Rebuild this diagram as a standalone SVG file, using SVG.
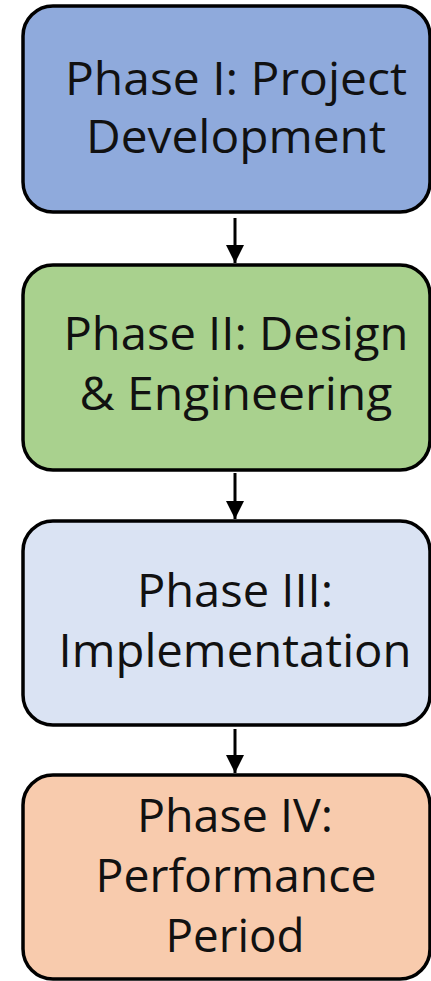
<svg xmlns="http://www.w3.org/2000/svg" width="431" height="981" viewBox="0 0 431 981">
<style>
.box{stroke:#000;stroke-width:3.5}
.t{font-family:"Open Sans","Noto Sans",sans-serif;font-size:46px;fill:#111;text-anchor:middle}
.c{stroke:#000;stroke-width:3;fill:none}
</style>
<defs>
<marker id="ah" viewBox="0 0 10 10" refX="10" refY="5" markerWidth="6" markerHeight="6" markerUnits="strokeWidth" orient="auto">
<path d="M0,0 L10,5 L0,10 z" fill="#000"/>
</marker>
</defs>
<rect width="431" height="981" fill="#fff"/>
<g id="connectors">
<line class="c" x1="235" y1="218" x2="235" y2="263" marker-end="url(#ah)"/>
<line class="c" x1="235" y1="473" x2="235" y2="519" marker-end="url(#ah)"/>
<line class="c" x1="235" y1="729" x2="235" y2="773" marker-end="url(#ah)"/>
</g>
<g id="phase1">
<rect class="box" x="23" y="6" width="407" height="206" rx="30" fill="#8FAADC"/>
<text class="t" x="236" y="95" textLength="342" lengthAdjust="spacingAndGlyphs">Phase I: Project</text>
<text class="t" x="236" y="153" textLength="300" lengthAdjust="spacingAndGlyphs">Development</text>
</g>
<g id="phase2">
<rect class="box" x="23" y="265" width="407" height="205" rx="30" fill="#A9D18E"/>
<text class="t" x="236" y="350" textLength="345" lengthAdjust="spacingAndGlyphs">Phase II: Design</text>
<text class="t" x="236" y="410" textLength="313" lengthAdjust="spacingAndGlyphs">&amp; Engineering</text>
</g>
<g id="phase3">
<rect class="box" x="23" y="521" width="407" height="204" rx="30" fill="#DAE3F3"/>
<text class="t" x="235" y="607" textLength="196" lengthAdjust="spacingAndGlyphs">Phase III:</text>
<text class="t" x="235" y="667" textLength="353" lengthAdjust="spacingAndGlyphs">Implementation</text>
</g>
<g id="phase4">
<rect class="box" x="23" y="775" width="407" height="204" rx="30" fill="#F8CBAD"/>
<text class="t" x="235" y="832" textLength="196" lengthAdjust="spacingAndGlyphs">Phase IV:</text>
<text class="t" x="236" y="892" textLength="281" lengthAdjust="spacingAndGlyphs">Performance</text>
<text class="t" x="235" y="952" textLength="139" lengthAdjust="spacingAndGlyphs">Period</text>
</g>
</svg>
